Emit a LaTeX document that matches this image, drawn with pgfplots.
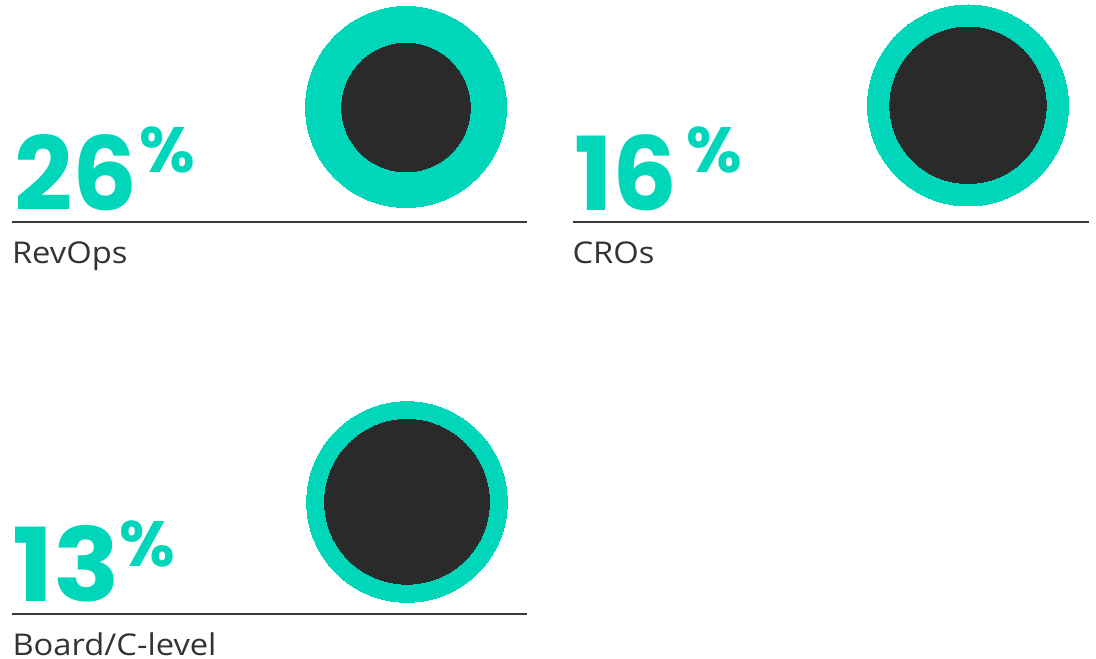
\documentclass[border=0pt]{standalone}
\usepackage{pgfplots}
\pgfplotsset{compat=1.18}
\usepackage{fontspec}
\setmainfont{Open Sans}
\newfontfamily\numfont{Poppins}
\newfontfamily\labfont{Open Sans}
\definecolor{tealc}{HTML}{00D6BA}
\definecolor{darkc}{HTML}{2A2A2A}
\definecolor{linec}{HTML}{3A3A3A}
\definecolor{labc}{HTML}{333333}
\newcommand{\lab}[1]{\scalebox{1.09}[1]{\labfont\fontsize{30}{30}\selectfont #1}}
\newcommand{\num}[2][1]{\raisebox{0pt}[\height][0pt]{\scalebox{#1}[1]{\numfont\bfseries\fontsize{102}{102}\selectfont #2}}}
\newcommand{\pct}{\raisebox{0pt}[\height][0pt]{\numfont\bfseries\fontsize{64}{64}\selectfont \%}}
\begin{document}
\begin{tikzpicture}
\begin{axis}[width=1096pt,height=659pt,scale only axis,
  xmin=0,xmax=1096,ymin=0,ymax=659,hide axis,clip=false,
  every node/.style={inner sep=0pt,outer sep=0pt}]
% outer circles
\addplot[tealc,only marks,mark=*,mark size=100.5pt,mark options={fill=tealc,draw=tealc,line width=0pt}] coordinates {(406,552)};
\addplot[tealc,only marks,mark=*,mark size=100.5pt,mark options={fill=tealc,draw=tealc,line width=0pt}] coordinates {(968,553.5)};
\addplot[tealc,only marks,mark=*,mark size=100.3pt,mark options={fill=tealc,draw=tealc,line width=0pt}] coordinates {(407,157)};
% inner circles
\addplot[darkc,only marks,mark=*,mark size=64.3pt,mark options={fill=darkc,draw=darkc,line width=0pt}] coordinates {(406,551.5)};
\addplot[darkc,only marks,mark=*,mark size=78.2pt,mark options={fill=darkc,draw=darkc,line width=0pt}] coordinates {(968,553.7)};
\addplot[darkc,only marks,mark=*,mark size=82.4pt,mark options={fill=darkc,draw=darkc,line width=0pt}] coordinates {(407,157.2)};
% rules
\addplot[linec,line width=2pt] coordinates {(12,437)(527,437)};
\addplot[linec,line width=2pt] coordinates {(573,437)(1089,437)};
\addplot[linec,line width=2pt] coordinates {(12,45)(527,45)};
% numbers
\node[anchor=base west,text=tealc] at (axis cs:11,448.3) {\num{26}};
\node[anchor=base west,text=tealc] at (axis cs:136,486) {\pct};
\node[anchor=base west,text=tealc] at (axis cs:571,448.3) {\num{16}};
\node[anchor=base west,text=tealc] at (axis cs:683,486) {\pct};
\node[anchor=base west,text=tealc] at (axis cs:9,57.3) {\num[1.08]{13}};
\node[anchor=base west,text=tealc] at (axis cs:116,92.3) {\pct};
% labels
\node[anchor=base west,text=labc] at (axis cs:8.5,395.5) {\lab{RevOps}};
\node[anchor=base west,text=labc] at (axis cs:569,395) {\lab{CROs}};
\node[anchor=base west,text=labc] at (axis cs:9,3.5) {\lab{Board/C-level}};
\end{axis}
\pgfresetboundingbox
\useasboundingbox (current axis.south west) rectangle (current axis.north east);
\end{tikzpicture}
\end{document}
